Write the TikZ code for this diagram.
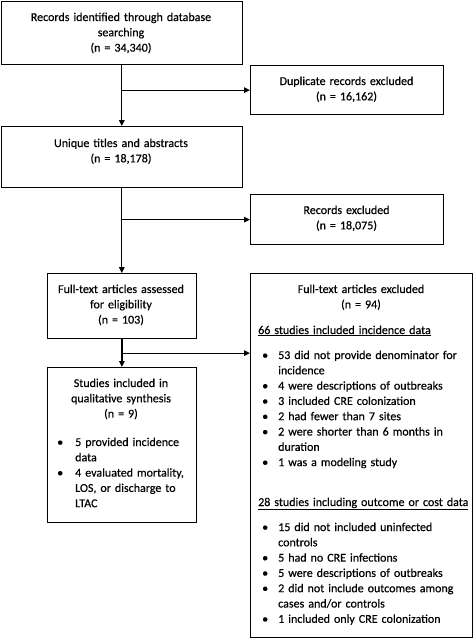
\documentclass[tikz,border=0pt]{standalone}
\usepackage{fontspec}
\setmainfont[FakeBold=0.4]{Carlito}
\usetikzlibrary{arrows.meta,calc}
\newcommand\bul[2]{\makebox[#1][l]{\textbullet}#2}
\begin{document}
\begin{tikzpicture}[x=1pt,y=-1pt,
  box/.style={draw,line width=1.3pt,rectangle,inner sep=0pt,anchor=north west},
  arr/.style={line width=1.3pt,-{Triangle[length=6pt,width=5.5pt]}},
  ctxt/.style={font=\fontsize{12}{15.3}\selectfont,inner sep=0pt,text width=230pt,align=center,anchor=base},
  ltxt/.style={font=\fontsize{12}{15.3}\selectfont,inner sep=0pt,text width=#1,align=left,anchor=base west}]
\useasboundingbox (0,0) rectangle (473,641);
% boxes
\node[box,minimum width=241pt,minimum height=63.5pt] (b1) at (0.65,0.65) {};
\node[box,minimum width=193pt,minimum height=49pt] (dup) at (250,65) {};
\node[box,minimum width=241pt,minimum height=61pt] (b2) at (0.65,126) {};
\node[box,minimum width=193pt,minimum height=50pt] (rec) at (250,194) {};
\node[box,minimum width=149.5pt,minimum height=65pt] (ft) at (46.5,273) {};
\node[box,minimum width=149.5pt,minimum height=155pt] (st) at (46.5,367) {};
\node[box,minimum width=222.4pt,minimum height=364pt] (ex) at (250,273) {};
% texts
\node[ctxt] (t1) at (121,21) {Records identified through database\\searching\\(n = 34,340)};
\node[ctxt] (t2) at (346.5,85) {Duplicate records excluded\\(n = 16,162)};
\node[ctxt] (t3) at (121,147) {Unique titles and abstracts\\(n = 18,178)};
\node[ctxt] (t4) at (346.5,214) {Records excluded\\(n = 18,075)};
\node[ctxt] (t5) at (121,293) {Full-text articles assessed\\for eligibility\\(n = 103)};
\node[ctxt] (t6) at (121,387) {Studies included in\\qualitative synthesis\\(n = 9)};
\node[ltxt=140pt] (t7) at (57,446) {\bul{18pt}{5 provided incidence}\\\hspace*{18pt}data\\\bul{18pt}{4 evaluated mortality,}\\\hspace*{18pt}LOS, or discharge to\\\hspace*{18pt}LTAC};
\node[ctxt] (t8) at (361,293) {Full-text articles excluded\\(n = 94)};
\node[ltxt=214pt] (t9) at (258,334) {\underline{66 studies included incidence data}};
\node[ltxt=208pt] (t10) at (262,359) {\bul{16pt}{53 did not provide denominator for}\\\hspace*{16pt}incidence\\\bul{16pt}{4 were descriptions of outbreaks}\\\bul{16pt}{3 included CRE colonization}\\\bul{16pt}{2 had fewer than 7 sites}\\\bul{16pt}{2 were shorter than 6 months in}\\\hspace*{16pt}duration\\\bul{16pt}{1 was a modeling study}};
\node[ltxt=214pt] (t11) at (258,506) {\underline{28 studies including outcome or cost data}};
\node[ltxt=208pt] (t12) at (262,531) {\bul{16pt}{15 did not included uninfected}\\\hspace*{16pt}controls\\\bul{16pt}{5 had no CRE infections}\\\bul{16pt}{5 were descriptions of outbreaks}\\\bul{16pt}{2 did not include outcomes among}\\\hspace*{16pt}cases and/or controls\\\bul{16pt}{1 included only CRE colonization}};
% connectors
\draw[arr] (b1.south) -- (b1.south |- b2.north);
\draw[arr] (b1.south |- dup.west) -- (dup.west);
\draw[arr] (b2.south) -- (b2.south |- ft.north);
\draw[arr] (b2.south |- rec.west) -- (rec.west);
\coordinate (j3) at ($(ft.south)!0.5!(st.north)$);
\draw[arr] (ft.south) -- (st.north);
\draw[arr] (j3) -- (j3 -| ex.west);
\end{tikzpicture}
\end{document}
